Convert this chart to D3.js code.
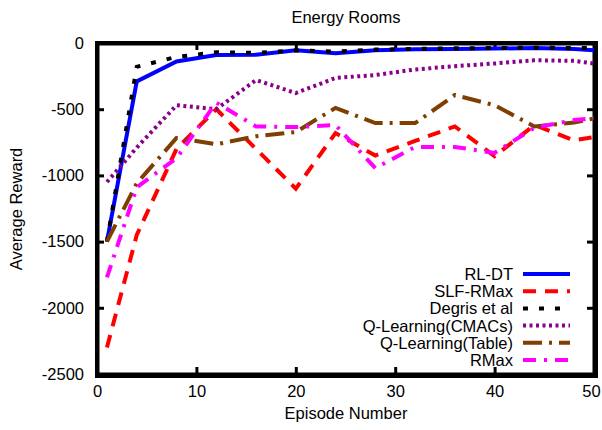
<!DOCTYPE html>
<html>
<head>
<meta charset="utf-8">
<script src="https://cdn.jsdelivr.net/npm/d3@7"></script>
<style>
  body { margin: 0; background: #fff; }
  #wrap { position: relative; width: 602px; height: 430px; }
  #chart { position: absolute; left: 0; top: 0; }
  #frame { position: absolute; left: 95px; top: 41px; width: 495px; height: 329px; border: 4px solid #000; pointer-events: none; }
</style>
</head>
<body>
<div id="wrap">
<svg id="chart" width="602" height="430" font-family="Liberation Sans, Arial, sans-serif" font-size="16.5"></svg>
<div id="frame"></div>
</div>
<script>
// episodes sampled in the reference
const episodes = [1, 4, 8, 12, 16, 20, 24, 28, 32, 36, 40, 44, 48, 50];

const rlDt = [-1500, -290, -140, -90, -88, -55, -78, -55, -48, -45, -42, -38, -45, -55];
const slfRmax = [-2300, -1450, -800, -500, -800, -1100, -680, -850, -740, -630, -855, -620, -735, -710];
const degris = [-1500, -180, -105, -70, -75, -55, -65, -50, -45, -40, -38, -35, -38, -38];
const qCmacs = [-1050, -790, -470, -500, -280, -378, -264, -242, -200, -175, -155, -130, -135, -155];
const qTable = [-1500, -1060, -717, -765, -705, -672, -490, -605, -605, -393, -470, -630, -600, -570];
const rmax = [-1770, -1090, -870, -450, -630, -635, -620, -945, -785, -785, -830, -640, -582, -567];

const xTicks = [0, 10, 20, 30, 40, 50];
const yTicks = [0, -500, -1000, -1500, -2000, -2500];

const series = [
  { name: 'RL-DT', values: rlDt, color: '#0000ff', dash: null },
  { name: 'SLF-RMax', values: slfRmax, color: '#ff0000', dash: '13,9' },
  { name: 'Degris et al', values: degris, color: '#000000', dash: '5,11' },
  { name: 'Q-Learning(CMACs)', values: qCmacs, color: '#8b008b', dash: '3,3.5' },
  { name: 'Q-Learning(Table)', values: qTable, color: '#7f3f00', dash: '19,7,3,7' },
  { name: 'RMax', values: rmax, color: '#ff00ff', dash: '13,8,3,8' }
];

const svg = d3.select('#chart');
const plotLeft = 97, plotRight = 594, plotTop = 43, plotBottom = 374;

const x = d3.scaleLinear().domain([0, 50]).range([plotLeft, plotRight]);
const y = d3.scaleLinear().domain([-2500, 0]).range([plotBottom, plotTop]);

// title and axis labels
svg.append('text').attr('x', 346).attr('y', 23).attr('text-anchor', 'middle').text('Energy Rooms');
svg.append('text').attr('x', 346).attr('y', 419).attr('text-anchor', 'middle').text('Episode Number');
svg.append('text')
  .attr('transform', 'translate(22,209) rotate(-90)')
  .attr('text-anchor', 'middle')
  .text('Average Reward');

// axes: inward ticks, mirrored on top and right
const tickLen = 7;
const axes = [
  { gen: d3.axisBottom(x).tickValues(xTicks), at: 'translate(0,' + plotBottom + ')', labels: true, pad: 11 },
  { gen: d3.axisTop(x).tickValues(xTicks), at: 'translate(0,' + plotTop + ')', labels: false, pad: 0 },
  { gen: d3.axisLeft(y).tickValues(yTicks), at: 'translate(' + plotLeft + ',0)', labels: true, pad: 13 },
  { gen: d3.axisRight(y).tickValues(yTicks), at: 'translate(' + plotRight + ',0)', labels: false, pad: 0 }
];
axes.forEach(a => {
  a.gen.tickSizeInner(-tickLen).tickSizeOuter(0).tickPadding(a.pad)
    .tickFormat(a.labels ? (d => String(d)) : '');
  svg.append('g')
    .attr('transform', a.at)
    .call(a.gen)
    .attr('font-size', 16.5)
    .attr('font-family', 'Liberation Sans, Arial, sans-serif')
    .call(g => g.select('.domain').attr('stroke', '#000').attr('stroke-width', 4))
    .call(g => g.selectAll('.tick line').attr('stroke', '#000').attr('stroke-width', 3))
    .call(g => g.selectAll('.tick text').attr('fill', '#000'));
});

// keep the last x label inside the window
svg.selectAll('.tick text').filter(d => d === 50).attr('dx', -3);

// series lines
const line = d3.line()
  .x((d, i) => x(episodes[i]))
  .y(d => y(d));

svg.append('g')
  .selectAll('path')
  .data(series)
  .join('path')
  .attr('d', d => line(d.values))
  .attr('fill', 'none')
  .attr('stroke', d => d.color)
  .attr('stroke-width', 4)
  .attr('stroke-dasharray', d => d.dash);

// legend
const legend = svg.append('g');
const rowY = d3.scaleLinear().domain([0, 5]).range([274, 360]);
series.forEach((s, i) => {
  const yy = rowY(i);
  legend.append('text')
    .attr('x', 513).attr('y', yy + 6)
    .attr('text-anchor', 'end')
    .text(s.name);
  legend.append('line')
    .attr('x1', 523).attr('x2', 570)
    .attr('y1', yy).attr('y2', yy)
    .attr('stroke', s.color)
    .attr('stroke-width', 4)
    .attr('stroke-dasharray', s.dash);
});
</script>
</body>
</html>
